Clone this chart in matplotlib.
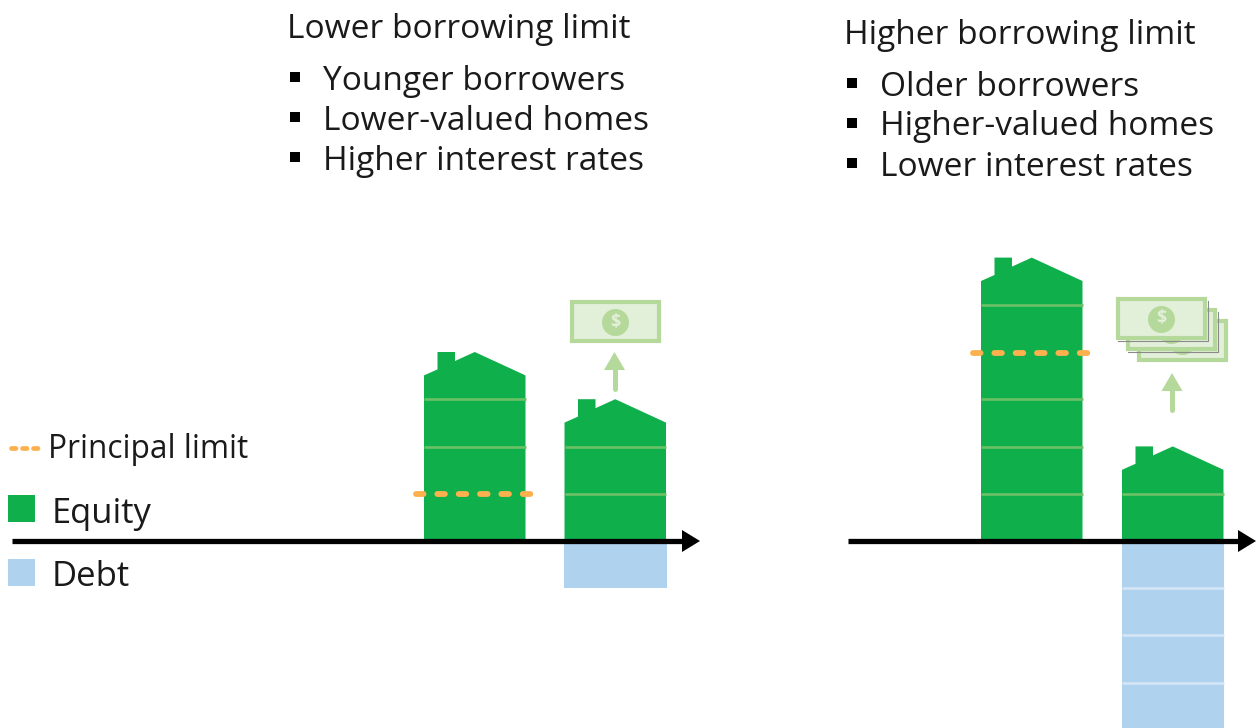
# coding: utf-8
import matplotlib
matplotlib.use('Agg')
import matplotlib.pyplot as plt
from matplotlib.patches import Polygon, Rectangle

plt.rcParams['font.family'] = ['Open Sans', 'DejaVu Sans']

GREEN = '#0FB04B'
BLUE = '#AFD2EE'
ORANGE = '#FDB04E'
FLOOR_LINE = '#6CC066'
LIGHT_GREEN = '#B5D99A'
BILL_FILL = '#E2EFD9'

# 一层 = 47.2 像素, 基线在 y=541
FLOOR = 47.2
BASE = 541

# 数据: 每栋房子的净值层数和债务层数
house_names = ['low_before', 'low_after', 'high_before', 'high_after']
equity_floors = [3, 2, 5, 1]
debt_floors = [0, 1, 0, 4]
principal_limit = [1, None, 3.98, None]
house_left = [424, 564.5, 981, 1122]

left_title = 'Lower borrowing limit'
left_items = ['Younger borrowers', 'Lower-valued homes', 'Higher interest rates']
right_title = 'Higher borrowing limit'
right_items = ['Older borrowers', 'Higher-valued homes', 'Lower interest rates']


def py(y):
    # 像素行 -> 层数坐标
    return (BASE - y) / FLOOR


fig = plt.figure(figsize=(12.56, 7.28), dpi=100)
ax = fig.add_axes([0, 0, 1, 1])
ax.set_xlim(0, 1256)
ax.set_ylim(py(728), py(0))
ax.axis('off')


def draw_house(x0, equity, debt, limit):
    w = 101.5
    top = equity + 47.4 / FLOOR
    wall = equity + 24 / FLOOR
    pts = [(x0, 0), (x0, wall), (x0 + 13.5, wall + 6 / FLOOR), (x0 + 13.5, top),
           (x0 + 31, top), (x0 + 31, top - 9 / FLOOR), (x0 + w / 2, top),
           (x0 + w, wall), (x0 + w, 0)]
    ax.add_patch(Polygon(pts, closed=True, fc=GREEN, ec='none', zorder=2))
    for i in range(1, equity + 1):
        if limit and i == round(limit):
            continue
        ax.plot([x0, x0 + w], [i, i], color=FLOOR_LINE, lw=1.9, solid_capstyle='butt', zorder=3)
    if debt:
        ax.bar(x0 + w / 2, -debt, width=w + 1, bottom=0, color=BLUE, zorder=1)
        for i in range(1, debt):
            ax.plot([x0, x0 + w], [-i, -i], color='#D5E6F5', lw=1.8, solid_capstyle='butt', zorder=2)
    if limit:
        ax.plot([x0 - 8, x0 + w + 5], [limit, limit], color=ORANGE, lw=4.2,
                dashes=(1.29, 2.37), dash_capstyle='round', zorder=4)


for x0, eq, db, lim in zip(house_left, equity_floors, debt_floors, principal_limit):
    draw_house(x0, eq, db, lim)


def draw_axis(x0, x1):
    ax.plot([x0, x1 - 15], [0, 0], color='black', lw=3.8, solid_capstyle='butt', zorder=5)
    ax.add_patch(Polygon([(x1 - 18, py(530)), (x1, 0), (x1 - 18, py(552))], closed=True,
                         fc='black', ec='none', zorder=5))


draw_axis(12, 700)
draw_axis(848, 1256)


def draw_bill(x, y, z=3, shadow=False):
    if shadow:
        ax.plot([x + 91.5, x + 91.5, x + 2], [py(y + 4), py(y + 44), py(y + 44)], color='#8A8A8A', lw=0.8, zorder=z)
    ax.add_patch(Rectangle((x + 2, py(y + 41)), 87, 39 / FLOOR, fc=BILL_FILL, ec=LIGHT_GREEN,
                           lw=3, joinstyle='miter', zorder=z))
    cx, cy = x + 45, py(y + 21.5)
    ax.scatter([cx], [cy], s=(27 * 0.72) ** 2, color=LIGHT_GREEN, linewidths=0, zorder=z)
    ax.text(cx, cy, '$', color=BILL_FILL, size=13, weight='bold', ha='center', va='center', zorder=z)


def draw_up_arrow(x, tip):
    ax.plot([x, x], [py(tip + 16), py(tip + 37)], color=LIGHT_GREEN, lw=3.6, solid_capstyle='round', zorder=3)
    ax.add_patch(Polygon([(x - 10.5, py(tip + 18)), (x, py(tip)), (x + 10.5, py(tip + 18))],
                         closed=True, fc=LIGHT_GREEN, ec='none', zorder=3))


draw_bill(570, 300)
draw_up_arrow(614.5, 352)
draw_bill(1137, 319, z=3)
draw_bill(1126, 308, z=4, shadow=True)
draw_bill(1116, 297, z=5, shadow=True)
draw_up_arrow(1172, 373)

# 标题和列表
TEXT_SIZE = 24.1
TEXT_COLOR = '#1A1A1A'


def label(x, y, s, size=TEXT_SIZE):
    ax.text(x, py(y), s, size=size, color=TEXT_COLOR, ha='left', va='baseline')


label(287, 38, left_title)
label(844, 44, right_title)
for i, item in enumerate(left_items):
    y = 89.5 + 40 * i
    ax.scatter([294.5], [py(y - 12.5)], marker='s', s=52, color='black', linewidths=0)
    label(323, y, item)
for i, item in enumerate(right_items):
    y = 95.5 + 40 * i
    ax.scatter([851.5], [py(y - 12.5)], marker='s', s=52, color='black', linewidths=0)
    label(880, y, item)

# 图例
ax.plot([10.5, 37.5], [py(447.5), py(447.5)], color=ORANGE, lw=3.4, dashes=(0.95, 1.38), dash_capstyle='round', zorder=3)
label(48, 457.5, 'Principal limit', size=22.7)
ax.add_patch(Rectangle((8, py(522)), 27, 27 / FLOOR, fc=GREEN, ec='none'))
label(52, 523, 'Equity', size=24.8)
ax.add_patch(Rectangle((8, py(586)), 27, 27 / FLOOR, fc=BLUE, ec='none'))
label(52, 586, 'Debt', size=25)

fig.savefig('out.png', dpi=100)
